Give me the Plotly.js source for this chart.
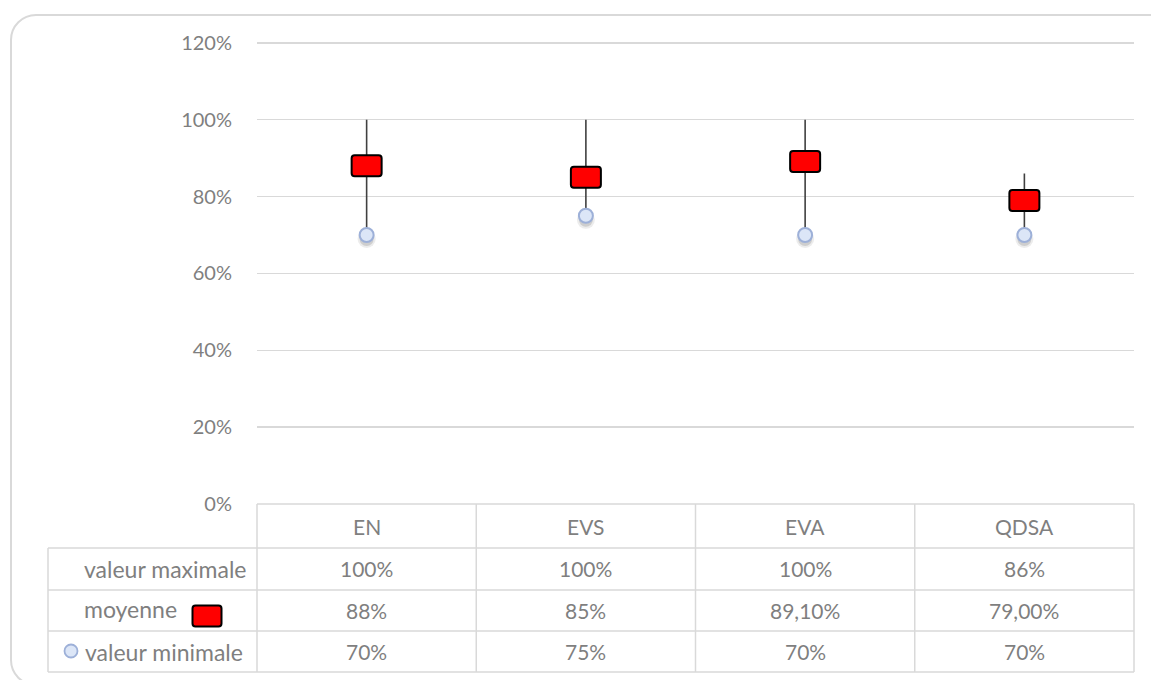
<!DOCTYPE html>
<html>
<head>
<meta charset="utf-8">
<script src="https://cdn.plot.ly/plotly-3.0.1.min.js"></script>
<style>
  html, body { margin: 0; padding: 0; background: #ffffff; }
  #wrap { position: relative; width: 1151px; height: 680px; overflow: hidden; }
  #chart { position: absolute; left: 0; top: 0; width: 1151px; height: 680px; }
  #frame {
    position: absolute; left: 10px; top: 14px; width: 1162px; height: 668px;
    border: 2px solid #d9d9d9; border-radius: 26px; pointer-events: none;
  }
</style>
</head>
<body>
<div id="wrap">
  <div id="chart"></div>
  <div id="frame"></div>
</div>
<script>
// Pain-scale scores: max / mean / min for each scale
const categories = ['EN', 'EVS', 'EVA', 'QDSA'];
const maxValues  = [1.00, 1.00, 1.00, 0.86];
const meanValues = [0.88, 0.85, 0.891, 0.79];
const minValues  = [0.70, 0.75, 0.70, 0.70];

const maxLabels  = ['100%', '100%', '100%', '86%'];
const meanLabels = ['88%', '85%', '89,10%', '79,00%'];
const minLabels  = ['70%', '75%', '70%', '70%'];

const rowNames = ['valeur maximale', 'moyenne', 'valeur minimale'];
const yTicks = [0, 0.2, 0.4, 0.6, 0.8, 1.0, 1.2];
const yTickText = ['0%', '20%', '40%', '60%', '80%', '100%', '120%'];

// Geometry of the figure (pixels); a little headroom above 120% keeps its gridline drawn
const W = 1151, H = 680;
const yTop = 1.21;
const M = { l: 257, r: 17, t: 39, b: 176 };
const plotW = W - M.l - M.r, plotH = H - M.t - M.b;
const px2x = p => (p - M.l) / plotW;           // pixel x -> paper x
const px2y = p => (H - M.b - p) / plotH;       // pixel y -> paper y

const gridCol = '#d9d9d9';
const textCol = '#7f7f7f';
const font = 'Lato, "Open Sans", sans-serif';

// High-low lines from min to max
const hiLo = {
  type: 'scatter', mode: 'lines', hoverinfo: 'skip', showlegend: false,
  x: categories.flatMap(c => [c, c, null]),
  y: categories.flatMap((c, i) => [minValues[i], maxValues[i], null]),
  line: { color: '#404040', width: 1.6 }
};

// Minimum markers
const minTrace = {
  type: 'scatter', mode: 'markers', name: 'valeur minimale', showlegend: false,
  x: categories, y: minValues,
  marker: { size: 14, color: '#dce6f7', line: { color: '#9db0d8', width: 2 } }
};
// Invisible carrier for the mean hover
const meanTrace = {
  type: 'scatter', mode: 'markers', name: 'moyenne', showlegend: false,
  x: categories, y: meanValues,
  marker: { size: 22, color: 'rgba(0,0,0,0)' }
};

// Rounded rectangle path centred on an anchor, in pixel units
function roundRect(w, h, r) {
  const x0 = -w / 2, x1 = w / 2, y0 = -h / 2, y1 = h / 2;
  return `M ${x0 + r} ${y0} L ${x1 - r} ${y0} Q ${x1} ${y0} ${x1} ${y0 + r} ` +
         `L ${x1} ${y1 - r} Q ${x1} ${y1} ${x1 - r} ${y1} ` +
         `L ${x0 + r} ${y1} Q ${x0} ${y1} ${x0} ${y1 - r} ` +
         `L ${x0} ${y0 + r} Q ${x0} ${y0} ${x0 + r} ${y0} Z`;
}

const shapes = [];

// Soft shadows under the minimum markers
categories.forEach((c, i) => {
  [[9, 0.10], [7, 0.18]].forEach(([r, a]) => {
    shapes.push({
      type: 'circle', xref: 'x', yref: 'y', xsizemode: 'pixel', ysizemode: 'pixel',
      xanchor: c, yanchor: minValues[i], x0: -r, x1: r, y0: -4 - r, y1: -4 + r,
      fillcolor: `rgba(70,70,70,${a})`, line: { width: 0 }, layer: 'below'
    });
  });
});

// Mean markers: red rounded rectangles
categories.forEach((c, i) => {
  shapes.push({
    type: 'path', xref: 'x', yref: 'y', xsizemode: 'pixel', ysizemode: 'pixel',
    xanchor: c, yanchor: meanValues[i], path: roundRect(30, 21, 3),
    fillcolor: '#ff0000', line: { color: '#000000', width: 2 }, layer: 'above'
  });
});

// Data table grid
const tableTop = 504, rowLines = [548, 590, 631, 672];
const tableLeft = 48;
const lineStyle = { color: gridCol, width: 1.5 };
const hLine = (x0, x1, y) => ({ type: 'line', xref: 'paper', yref: 'paper',
  x0: px2x(x0), x1: px2x(x1), y0: px2y(y), y1: px2y(y), line: lineStyle });
const vLine = (xp, y0, y1) => ({ type: 'line', xref: 'paper', yref: 'paper',
  x0: xp, x1: xp, y0: px2y(y0), y1: px2y(y1), line: lineStyle });

shapes.push(hLine(M.l, W - M.r, tableTop));
rowLines.forEach(y => shapes.push(hLine(tableLeft, W - M.r, y)));
for (let k = 0; k <= categories.length; k++) {
  shapes.push(vLine(k / categories.length, tableTop, rowLines[rowLines.length - 1]));
}
shapes.push(vLine(px2x(tableLeft), rowLines[0], rowLines[rowLines.length - 1]));

// Legend keys inside the row headers
shapes.push({
  type: 'path', xref: 'paper', yref: 'paper', xsizemode: 'pixel', ysizemode: 'pixel',
  xanchor: px2x(207), yanchor: px2y(616), path: roundRect(29, 21, 3),
  fillcolor: '#ff0000', line: { color: '#000000', width: 2 }
});
shapes.push({
  type: 'circle', xref: 'paper', yref: 'paper', xsizemode: 'pixel', ysizemode: 'pixel',
  xanchor: px2x(71), yanchor: px2y(651), x0: -6.5, x1: 6.5, y0: -6.5, y1: 6.5,
  fillcolor: '#dce6f7', line: { color: '#9db0d8', width: 1.8 }
});

// Table texts
const annotations = [];
const txt = (text, x, xref, y, size, xanchor) => ({
  text, x, xref, y: px2y(y), yref: 'paper', xanchor: xanchor || 'center',
  yanchor: 'middle', showarrow: false, font: { family: font, size, color: textCol }
});
const headerY = (tableTop + rowLines[0]) / 2;
const rowY = [0, 1, 2].map(k => (rowLines[k] + rowLines[k + 1]) / 2);
const rowValues = [maxLabels, meanLabels, minLabels];

categories.forEach((c, i) => {
  annotations.push(txt(c, c, 'x', headerY, 21));
  rowValues.forEach((labels, r) => annotations.push(txt(labels[i], c, 'x', rowY[r], 21)));
});
annotations.push(txt(rowNames[0], px2x(82), 'paper', rowY[0], 23, 'left'));
annotations.push(txt(rowNames[1], px2x(82), 'paper', rowY[1] - 2, 23, 'left'));
annotations.push(txt(rowNames[2], px2x(83), 'paper', rowY[2], 23, 'left'));

const layout = {
  width: W, height: H,
  margin: M,
  paper_bgcolor: 'rgba(0,0,0,0)', plot_bgcolor: 'rgba(0,0,0,0)',
  showlegend: false,
  font: { family: font, color: textCol },
  xaxis: {
    type: 'category', categoryarray: categories, range: [-0.5, categories.length - 0.5],
    showticklabels: false, showgrid: false, zeroline: false, showline: false, ticks: ''
  },
  yaxis: {
    range: [0, yTop], tickvals: yTicks, ticktext: yTickText,
    showgrid: true, gridcolor: gridCol, gridwidth: 1.5,
    zeroline: false, showline: false, ticks: '',
    ticklabelstandoff: 24,
    tickfont: { family: font, size: 20, color: textCol }
  },
  shapes, annotations
};

Plotly.newPlot('chart', [hiLo, minTrace, meanTrace], layout, { displayModeBar: false, staticPlot: true });
</script>
</body>
</html>
